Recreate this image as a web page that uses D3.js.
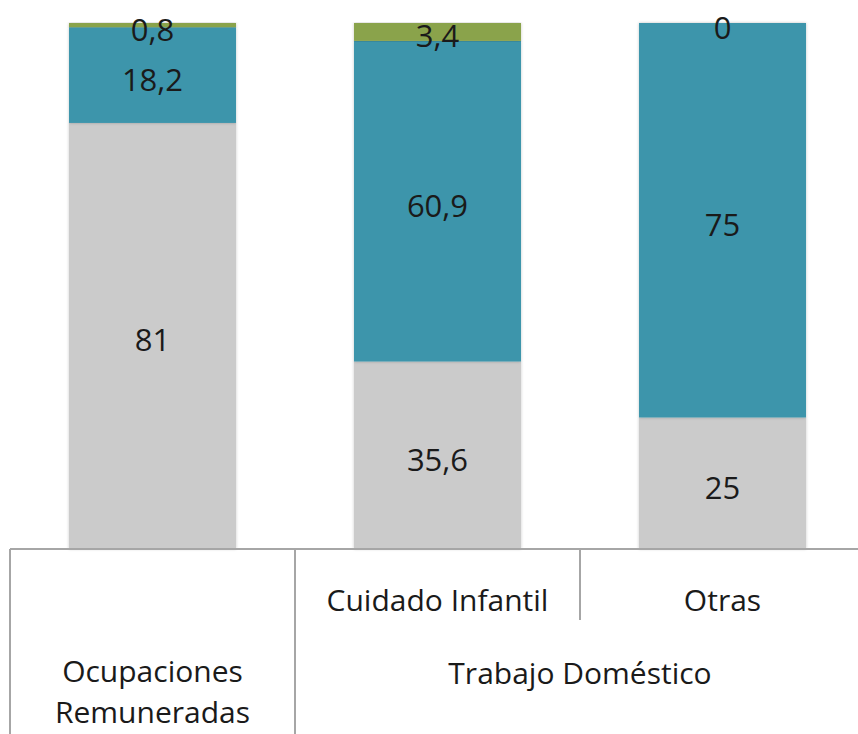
<!DOCTYPE html>
<html>
<head>
<meta charset="utf-8">
<script src="https://cdn.jsdelivr.net/npm/d3@7"></script>
<style>
  body { margin: 0; background: #fff; }
  text { font-family: "Open Sans", "Noto Sans", sans-serif; fill: #1a1a1a; }
</style>
</head>
<body>
<div id="chart"></div>
<script>
// categories (leaf level) and their parent groups
const categories = ["Ocupaciones Remuneradas", "Cuidado Infantil", "Otras"];
const leafLabels = [["Ocupaciones", "Remuneradas"], ["Cuidado Infantil"], ["Otras"]];
const groups = [
  { name: "Trabajo Doméstico", from: 1, to: 2 }
];

// series, bottom to top
const seriesNames = ["s1", "s2", "s3"];
const s1 = [81, 35.6, 25];
const s2 = [18.2, 60.9, 75];
const s3 = [0.8, 3.4, 0];
const colors = ["#cbcbcb", "#3d95ab", "#8aa34b"];

const width = 858, height = 734;
const plotTop = 23, axisY = 549;

const svg = d3.select("#chart").append("svg")
    .attr("width", width)
    .attr("height", height);

const defs = svg.append("defs");
const shadow = defs.append("filter").attr("id", "shadow")
    .attr("x", "-5%").attr("y", "-5%").attr("width", "110%").attr("height", "110%");
shadow.append("feGaussianBlur").attr("in", "SourceAlpha").attr("stdDeviation", 1.5);
shadow.append("feComponentTransfer").append("feFuncA").attr("type", "linear").attr("slope", 0.25);
const merge = shadow.append("feMerge");
merge.append("feMergeNode");
merge.append("feMergeNode").attr("in", "SourceGraphic");

const x = d3.scaleBand()
    .domain(categories)
    .range([10, 865])
    .paddingInner(0.414)
    .paddingOuter(0.207);

const y = d3.scaleLinear()
    .domain([0, 100])
    .range([axisY, plotTop]);

// 100% stacked: normalise each column
const table = categories.map((c, i) => ({ cat: c, s1: s1[i], s2: s2[i], s3: s3[i] }));
const stack = d3.stack().keys(seriesNames).offset(d3.stackOffsetExpand);
const stacked = stack(table);

const layer = svg.append("g").selectAll("g")
    .data(stacked)
    .join("g")
    .attr("fill", (d, i) => colors[i]);

layer.selectAll("rect")
    .data(d => d)
    .join("rect")
    .attr("x", d => x(d.data.cat))
    .attr("width", x.bandwidth())
    .attr("y", d => y(d[1] * 100))
    .attr("height", d => y(d[0] * 100) - y(d[1] * 100))
    .attr("filter", "url(#shadow)");

// value labels
const labels = svg.append("g")
    .attr("text-anchor", "middle")
    .attr("font-size", 31);

stacked.forEach(ser => {
  ser.forEach((d, ci) => {
    const raw = table[ci][ser.key];
    labels.append("text")
        .attr("x", x(d.data.cat) + x.bandwidth() / 2)
        .attr("y", (y(d[0] * 100) + y(d[1] * 100)) / 2)
        .attr("dy", "0.5em")
        .text(String(raw).replace(".", ","));
  });
});

// hierarchical category axis
const lineColor = "#a6a6a6";
const axis = svg.append("g").attr("stroke", lineColor).attr("stroke-width", 2);
const step = x.step();
const edge = i => x(categories[i]) - x.paddingOuter() * step;

axis.append("line")
    .attr("x1", edge(0)).attr("x2", width)
    .attr("y1", axisY).attr("y2", axisY);

categories.forEach((c, i) => {
  const inGroup = groups.find(g => i > g.from && i <= g.to);
  axis.append("line")
      .attr("x1", edge(i)).attr("x2", edge(i))
      .attr("y1", axisY).attr("y2", inGroup ? 620 : height);
});

const axisText = svg.append("g")
    .attr("text-anchor", "middle")
    .attr("font-size", 30);

leafLabels.forEach((lines, i) => {
  const cx = x(categories[i]) + x.bandwidth() / 2;
  const inGroup = groups.some(g => i >= g.from && i <= g.to);
  if (inGroup) {
    axisText.append("text").attr("x", cx).attr("y", 611).text(lines[0]);
  } else {
    lines.forEach((t, k) => {
      axisText.append("text").attr("x", cx).attr("y", 682 + k * 41).text(t);
    });
  }
});

groups.forEach(g => {
  const x0 = edge(g.from);
  const x1 = x(categories[g.to]) + x.bandwidth() + x.paddingOuter() * step;
  axisText.append("text")
      .attr("x", (x0 + x1) / 2)
      .attr("y", 684)
      .text(g.name);
});
</script>
</body>
</html>
